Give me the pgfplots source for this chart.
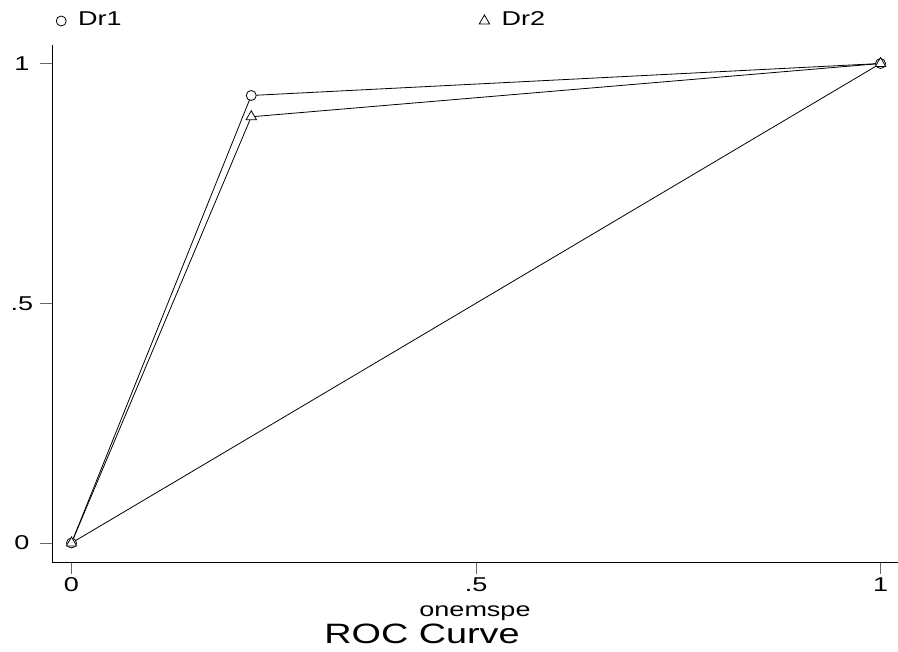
\documentclass[border=0pt]{standalone}
\usepackage{pgfplots}
\pgfplotsset{compat=1.18}
\usepackage{fontspec}
\setmainfont{Liberation Sans}[FakeStretch=1.35]
\begin{document}
\begin{tikzpicture}[x=1pt,y=1pt]
\useasboundingbox (0,0) rectangle (898,652);
\begin{axis}[
  at={(52pt,90pt)}, anchor=south west,
  scale only axis, width=846pt, height=517pt,
  xmin=-0.0241, xmax=1.0216, ymin=-0.0396, ymax=1.0386,
  axis x line*=bottom, axis y line*=left,
  axis line style={black, line width=0.8pt, -},
  xtick={0,0.5,1}, xticklabels={0,.5,1},
  ytick={0,0.5,1}, yticklabels={0,.5,1},
  tick align=outside, major tick length=12pt,
  tick style={gray!80!black, line width=0.8pt},
  /pgf/number format/assume math mode=true,
  ticklabel style={font=\fontsize{20}{24}\selectfont},
  yticklabel style={anchor=center, xshift=-18pt},
  xticklabel style={anchor=center, yshift=-11pt},
  xlabel={onemspe},
  xlabel style={at={(axis description cs:0.5,0)}, anchor=base, yshift=-55pt, font=\fontsize{20}{24}\selectfont},
  title={ROC Curve},
  title style={at={(axis description cs:0.4374,0)}, anchor=base, yshift=-88pt, font=\fontsize{28}{32}\selectfont},
  legend columns=2,
  legend image code/.code={\draw[#1] plot coordinates {(0pt,-2pt)};},
  legend style={draw=none, fill=none, inner sep=0pt, outer sep=0pt,
    at={(axis description cs:0.005,1.0503)}, anchor=west,
    font=\fontsize{20}{24}\selectfont,
    nodes={inner sep=0pt, text width=380pt, align=left},
    /tikz/every odd column/.append style={column sep=12pt},
    /tikz/every even column/.append style={column sep=21pt}},
]
\addplot[black, line width=0.8pt, forget plot] coordinates {(0,0) (1,1)};
\addplot[black, line width=0.8pt, mark=*, mark size=5pt, mark options={fill=white, solid}, forget plot]
  coordinates {(0,0) (0.2222,0.9333) (1,1)};
\addplot[black, line width=0.8pt, mark=triangle*, mark size=6pt, mark options={fill=white, solid}, forget plot]
  coordinates {(0,0) (0.2222,0.8889) (1,1)};
\addlegendimage{black, line width=0.8pt, mark=*, mark size=5pt, mark options={fill=white}}
\addlegendentry{Dr1}
\addlegendimage{black, line width=0.8pt, mark=triangle*, mark size=6pt, mark options={fill=white}}
\addlegendentry{Dr2}
\end{axis}
\end{tikzpicture}
\end{document}
